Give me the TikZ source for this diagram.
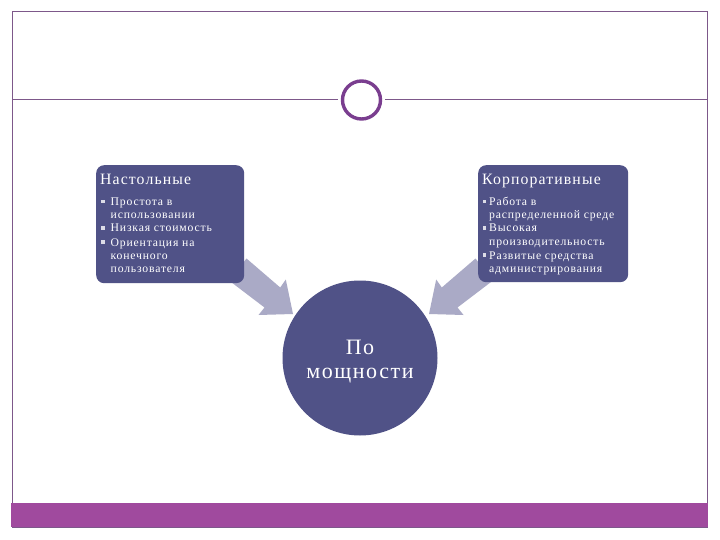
\documentclass[tikz,border=0pt]{standalone}
\usepackage{fontspec}
\setmainfont{Liberation Serif}[LetterSpace=7]
\definecolor{boxblue}{RGB}{80,82,135}
\definecolor{arrowgrey}{RGB}{170,170,198}
\definecolor{framec}{RGB}{125,88,138}
\definecolor{barc}{RGB}{160,74,158}
\definecolor{ringc}{RGB}{122,62,143}
\tikzset{
  boxst/.style={fill=boxblue, rounded corners=8pt, draw=none, inner sep=0pt},
  arrowst/.style={fill=arrowgrey, draw=none},
  ttl/.style={anchor=base west, inner sep=0pt, text=white, font=\fontsize{15.8}{17}\selectfont},
  ln/.style={anchor=base west, inner sep=0pt, text=white, font=\fontsize{11.7}{13}\selectfont},
  blt/.style={fill=white!80!boxblue, minimum size=3.2pt, inner sep=0pt, draw=none, rectangle},
  hubtxt/.style={anchor=base, inner sep=0pt, text=white, font=\fontsize{22}{24}\selectfont}
}
\begin{document}
\begin{tikzpicture}[x=1pt,y=-1pt]
\useasboundingbox (0,0) rectangle (720,540);
\fill[white] (0,0) rectangle (720,540);
% frame
\draw[framec, line width=1pt] (12,12) rectangle (707,527);
\fill[barc] (11,503) rectangle (708,527);
\coordinate (hl1) at (12,100);
\coordinate (hl2) at (338,100);
\coordinate (hr1) at (385,100);
\coordinate (hr2) at (707,100);
\draw[framec, line width=1pt] (hl1) -- (hl2);
\draw[framec, line width=1pt] (hr1) -- (hr2);
\node[circle, draw=ringc, line width=3.4pt, minimum size=38pt, inner sep=0pt] (ring) at (361.5,100) {};
% arrows
\fill[arrowst] (246.5,258.5) -- (280.2,287.5) -- (285.8,279.5) -- (293,314) -- (258.5,315) -- (264.5,307.5) -- (229,280.5) -- cycle;
\fill[arrowst] (475.5,258.5) -- (441.8,287.5) -- (436.2,279.5) -- (429,314) -- (463.5,315) -- (457.5,307.5) -- (493,280.5) -- cycle;
% boxes
\node[boxst, anchor=north west, minimum width=148pt, minimum height=118pt] (lbox) at (96,165) {};
\node[boxst, anchor=north west, minimum width=150pt, minimum height=117pt] (rbox) at (478,165) {};
\node[circle, fill=boxblue, minimum size=155pt, inner sep=0pt] (hub) at (360,358) {};
% left text
\node[ttl] (lt) at (100,185) {Настольные};
\node[blt] (lb1) at (103,201.5) {};
\node[ln] (l1) at (110.5,205.5) {Простота в};
\node[ln] (l2) at (110.5,218.5) {использовании};
\node[blt] (lb2) at (103,228) {};
\node[ln] (l3) at (110.5,232) {Низкая стоимость};
\node[blt] (lb3) at (103,242) {};
\node[ln] (l4) at (110.5,246) {Ориентация на};
\node[ln] (l5) at (110.5,259) {конечного};
\node[ln] (l6) at (110.5,272.5) {пользователя};
% right text
\node[ttl] (rt) at (482,185) {Корпоративные};
\node[blt] (rb1) at (484.5,201.5) {};
\node[ln] (r1) at (489,205.5) {Работа в};
\node[ln] (r2) at (489,218.5) {распределенной среде};
\node[blt] (rb2) at (484.5,228) {};
\node[ln] (r3) at (489,232) {Высокая};
\node[ln] (r4) at (489,245) {производительность};
\node[blt] (rb3) at (484.5,255) {};
\node[ln] (r5) at (489,259) {Развитые средства};
\node[ln] (r6) at (489,272.5) {администрирования};
% hub text
\node[hubtxt] (h1) at (360,354) {По};
\node[hubtxt] (h2) at (360,378) {мощности};
\end{tikzpicture}
\end{document}
